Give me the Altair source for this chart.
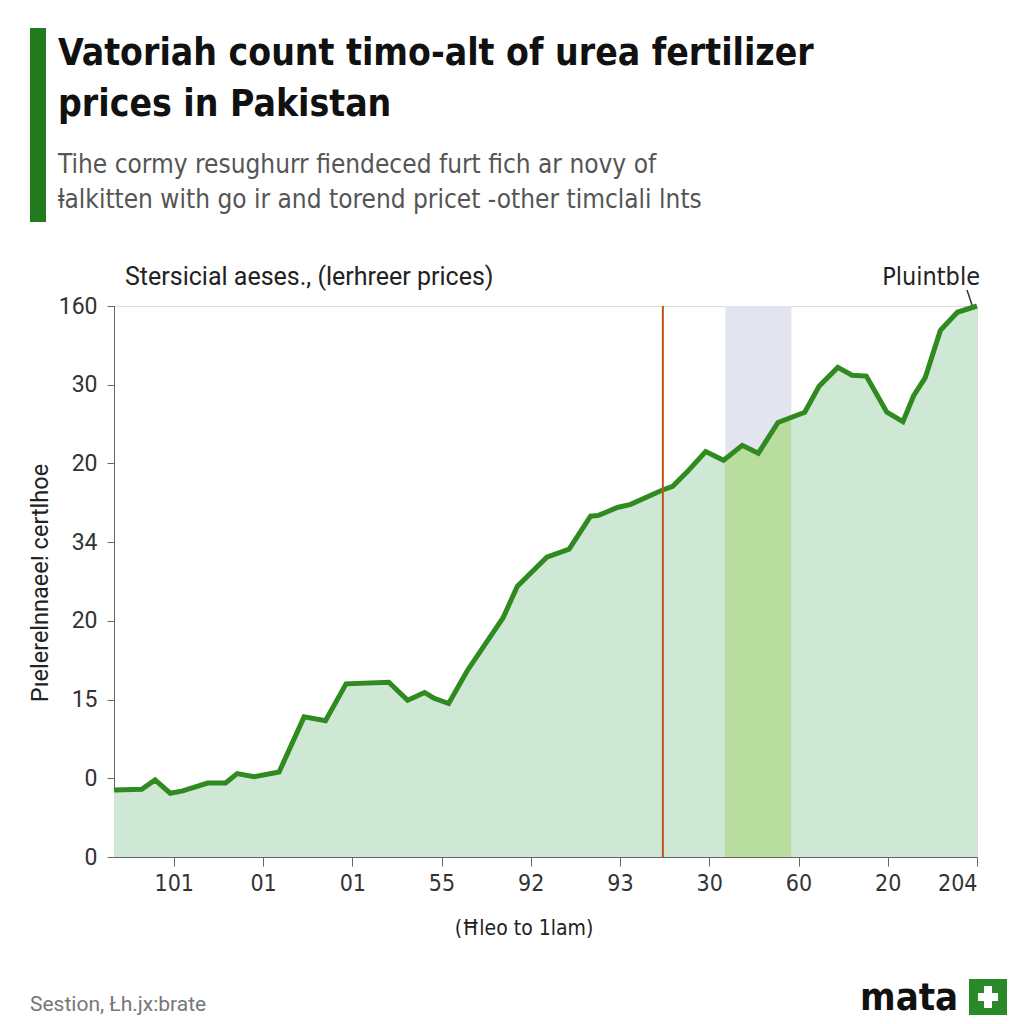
import altair as alt
import pandas as pd

# ---- data (x in axis-tick units, y in axis-tick units) ----
x_vals = [-0.67, -0.36, -0.21, -0.04, 0.10, 0.38, 0.58, 0.71, 0.90, 1.18,
          1.46, 1.70, 1.93, 2.41, 2.62, 2.81, 2.91, 3.08, 3.29, 3.69,
          3.85, 4.18, 4.43, 4.67, 4.76, 4.97, 5.12, 5.47, 5.59, 5.75,
          5.96, 6.16, 6.37, 6.55, 6.77, 7.07, 7.23, 7.44, 7.60, 7.76,
          7.99, 8.17, 8.29, 8.42, 8.59, 8.78, 9.00]
y_vals = [0.85, 0.86, 0.98, 0.81, 0.84, 0.94, 0.94, 1.06, 1.02, 1.08,
          1.78, 1.73, 2.20, 2.22, 1.99, 2.09, 2.02, 1.95, 2.37, 3.04,
          3.44, 3.81, 3.91, 4.33, 4.34, 4.44, 4.48, 4.66, 4.71, 4.89,
          5.15, 5.04, 5.23, 5.13, 5.52, 5.65, 5.98, 6.22, 6.12, 6.11,
          5.65, 5.53, 5.86, 6.09, 6.69, 6.92, 7.00]
x_tick_labels = ["101", "01", "01", "55", "92", "93", "30", "60", "20", "204"]
y_tick_labels = ["0", "0", "15", "20", "34", "20", "30", "160"]
x_domain = [-0.67, 9.0]
y_domain = [0, 7]
band_start = 6.18
band_end = 6.92
marker_x = 5.48

title_lines = ["Vatoriah count timo-alt of urea fertilizer", "prices in Pakistan"]
subtitle_lines = ["Tihe cormy resughurr fiendeced furt fich ar novy of",
                  "\u2C61alkitten with go ir and torend pricet -other timclali lnts"]
top_axis_note = "Stersicial aeses., (lerhreer prices)"
y_title = "P\u0131elerelnnaee! certlhoe"
x_title = "(\u0126leo to 1lam)"
end_label = "Pluintble"
footer_text = "Sestion, \u0141h.jx:brate"
logo_text = "mata"

W, H = 863, 551
NARROW = "'Liberation Sans Narrow', 'Arial Narrow', 'DejaVu Sans Condensed', sans-serif"
REG = "Roboto, 'Liberation Sans', sans-serif"

df = pd.DataFrame({"x": x_vals, "y": y_vals})

xs = alt.Scale(domain=x_domain, nice=False, zero=False)
ys = alt.Scale(domain=y_domain, nice=False)


def expr_list(labels):
    return "[" + ",".join("'" + s + "'" for s in labels) + "][datum.value]"


x_enc = alt.X("x:Q", scale=xs, axis=alt.Axis(
    values=list(range(len(x_tick_labels))), labelExpr=expr_list(x_tick_labels),
    title=None, grid=False, tickSize=9, labelPadding=6, labelFont=NARROW,
    labelFontSize=23, labelColor="#333", domainColor="#666", tickColor="#666"))
y_enc = alt.Y("y:Q", scale=ys, axis=alt.Axis(
    values=list(range(len(y_tick_labels))), labelExpr=expr_list(y_tick_labels),
    title=None, grid=False, tickSize=7, labelPadding=10, labelFont=REG,
    labelFontSize=23, labelColor="#333", domainColor="#666", tickColor="#666"))

# shaded band (lavender, visible above the line)
band = alt.Chart(pd.DataFrame({"x": [band_start], "x2": [band_end],
                               "y": [y_domain[0]], "y2": [y_domain[1]]})).mark_rect(
    color="#e2e5ef").encode(x=alt.X("x:Q", scale=xs), x2="x2:Q",
                            y=alt.Y("y:Q", scale=ys), y2="y2:Q")

o1 = (band_start - x_domain[0]) / (x_domain[1] - x_domain[0])
o2 = (band_end - x_domain[0]) / (x_domain[1] - x_domain[0])
light = "#cfe8d5"
strong = "#b9dd9f"
grad = alt.LinearGradient(gradient="linear", x1=0, x2=1, y1=0, y2=0, stops=[
    alt.GradientStop(offset=0, color=light),
    alt.GradientStop(offset=o1, color=light),
    alt.GradientStop(offset=o1, color=strong),
    alt.GradientStop(offset=o2, color=strong),
    alt.GradientStop(offset=o2, color=light),
    alt.GradientStop(offset=1, color=light),
])

area = alt.Chart(df).mark_area(fill=grad, opacity=1).encode(x=x_enc, y=y_enc)
line = alt.Chart(df).mark_line(color="#2f8a1f", strokeWidth=5).encode(
    x=alt.X("x:Q", scale=xs), y=alt.Y("y:Q", scale=ys))

rule = alt.Chart(pd.DataFrame({"x": [marker_x], "y": [y_domain[0]], "y2": [y_domain[1]]})).mark_rule(
    color="#c2521c", strokeWidth=2).encode(x=alt.X("x:Q", scale=xs),
                                          y=alt.Y("y:Q", scale=ys), y2="y2:Q")


def txt(text, x, y, size, font, color, weight="normal", align="left", angle=0):
    return alt.Chart(pd.DataFrame({"t": [text]})).mark_text(
        align=align, baseline="alphabetic", fontSize=size, font=font, color=color,
        fontWeight=weight, angle=angle).encode(
        x=alt.value(x), y=alt.value(y), text="t:N")


def box(x, x2, y, y2, color):
    return alt.Chart(pd.DataFrame({"a": [0]})).mark_rect(color=color).encode(
        x=alt.value(x), x2=alt.value(x2), y=alt.value(y), y2=alt.value(y2))


layers = [band, area, line, rule,
          box(-84, -68, -278, -84, "#237a1e"),
          txt(title_lines[0], -56, -241, 37, NARROW, "#111", "bold"),
          txt(title_lines[1], -56, -190, 37, NARROW, "#111", "bold"),
          txt(subtitle_lines[0], -56, -133, 26, NARROW, "#555"),
          txt(subtitle_lines[1], -56, -98, 26, NARROW, "#555"),
          txt(top_axis_note, 11, -21, 25, REG, "#222"),
          txt(end_label, 866, -21, 25, NARROW, "#222", align="right"),
          alt.Chart(pd.DataFrame({"a": [0]})).mark_rule(color="#333", strokeWidth=1.5).encode(
              x=alt.value(853), x2=alt.value(858), y=alt.value(-16), y2=alt.value(-1)),
          txt(y_title, -66, 277, 23.5, REG, "#222", align="center", angle=270),
          txt(x_title, 410, 629, 21, NARROW, "#222", align="center"),
          txt(footer_text, -84, 705, 21, REG, "#777"),
          txt(logo_text, 746, 704, 38, NARROW, "#111", "bold"),
          box(855, 893, 673, 709, "#2a8a2a"),
          box(864, 884, 687, 695, "#ffffff"),
          box(870, 878, 680, 702, "#ffffff"),
          ]

chart = alt.layer(*layers).properties(
    width=W, height=H,
    autosize=alt.AutoSizeParams(type="none"),
    padding={"left": 106, "top": 298, "right": 30, "bottom": 166},
).configure_view(stroke=None).configure(background="white")

chart.save("out.html", embed_options={"renderer": "svg", "actions": False})
